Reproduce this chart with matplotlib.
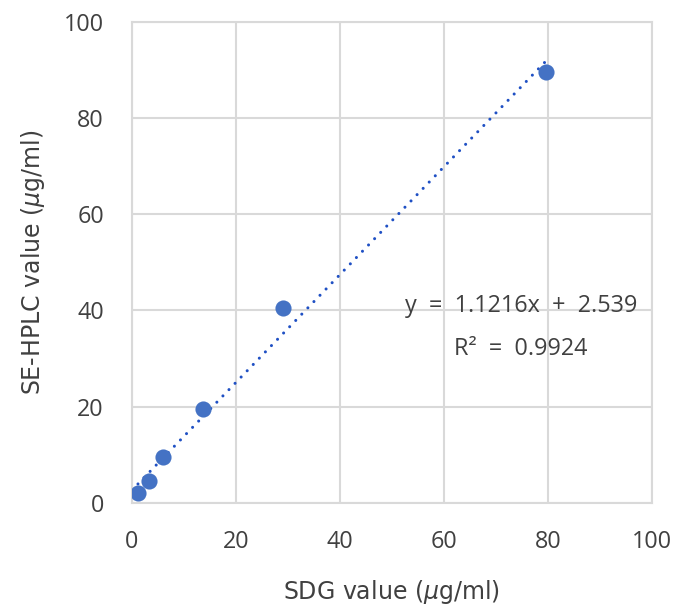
import matplotlib

matplotlib.use("Agg")
import matplotlib.pyplot as plt
import numpy as np

plt.rcParams["font.family"] = ["Open Sans", "DejaVu Sans"]
plt.rcParams["mathtext.fontset"] = "dejavusans"

sdg_values = [1.2, 3.4, 6.1, 13.7, 29.1, 79.6]
hplc_values = [2.1, 4.5, 9.4, 19.5, 40.5, 89.6]

# linear trendline reported on the chart
slope = 1.1216
intercept = 2.539
r_squared = 0.9924

x_ticks = [0, 20, 40, 60, 80, 100]
y_ticks = [0, 20, 40, 60, 80, 100]

BLUE = "#4472C4"
LINE_BLUE = "#1F50C4"
GRID = "#D9D9D9"
TEXT = "#404040"

fig = plt.figure(figsize=(6.79, 6.10), dpi=100)
ax = fig.add_axes([0.194, 0.176, 0.766, 0.788])

x_fit = np.array([min(sdg_values), max(sdg_values)])
ax.plot(x_fit, slope * x_fit + intercept, color=LINE_BLUE, linewidth=2.2,
        linestyle=(0, (0.01, 2.85)), dash_capstyle="round", zorder=2)
ax.scatter(sdg_values, hplc_values, s=135, color=BLUE, zorder=3, linewidths=0)

ax.set_xlim(0, 100)
ax.set_ylim(0, 100)
ax.set_xticks(x_ticks)
ax.set_yticks(y_ticks)
ax.tick_params(axis="x", length=0, labelsize=16.8, labelcolor=TEXT, pad=20)
ax.tick_params(axis="y", length=0, labelsize=16.8, labelcolor=TEXT, pad=20)
ax.grid(True, color=GRID, linewidth=1.5)
ax.set_axisbelow(True)
for spine in ax.spines.values():
    spine.set_color(GRID)
    spine.set_linewidth(1.5)

ax.set_xlabel(r"SDG value ($\mu$g/ml)", fontsize=17, color=TEXT, labelpad=17,
              family="DejaVu Sans")
ax.set_ylabel(r"SE-HPLC value ($\mu$g/ml)", fontsize=17, color=TEXT, labelpad=12,
              family="DejaVu Sans")

ax.text(0.748, 0.41, f"y  =  {slope}x  +  {intercept}", transform=ax.transAxes,
        ha="center", va="center", fontsize=16.8, color=TEXT)
ax.text(0.748, 0.32, f"R²  =  {r_squared}", transform=ax.transAxes,
        ha="center", va="center", fontsize=16.8, color=TEXT)

fig.savefig("out.png", dpi=100)
plt.close(fig)
